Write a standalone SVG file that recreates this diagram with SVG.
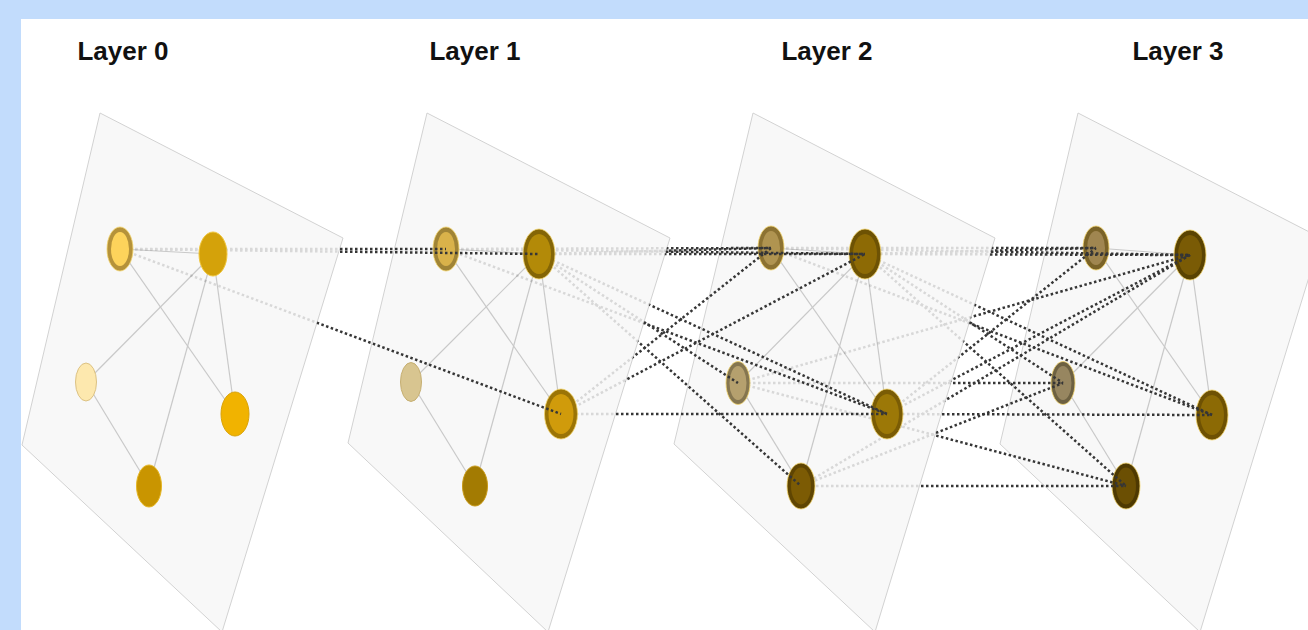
<svg xmlns="http://www.w3.org/2000/svg" xmlns:xlink="http://www.w3.org/1999/xlink" width="1308" height="630" viewBox="0 0 1308 630">
  <style>
    .label { font-family: "Liberation Sans", Arial, sans-serif; font-weight: bold; font-size: 26px; fill: #111; }
    .plane { fill: #f8f8f8; stroke: #d2d2d2; stroke-width: 1; }
    .edge { stroke: #c9c9c9; stroke-width: 1.2; fill: none; }
    .link { stroke: #363636; stroke-width: 2.5; stroke-dasharray: 2.5 2.5; fill: none; }
    .halo { stroke: #f3d46c; stroke-width: 0.8; }
  </style>
  <defs>
    <polygon id="p0" points="100,113 343,238 222,632 22,445"/>
    <polygon id="p1" points="427,113 670,238 548,632 348,443"/>
    <polygon id="p2" points="753,113 995,238 875,632 674,444"/>
    <!-- a link is faint where it crosses its source plane and hidden under the source nodes -->
    <mask id="m01" maskUnits="userSpaceOnUse" x="0" y="0" width="1308" height="630">
      <rect width="1308" height="630" fill="#fff"/>
      <use xlink:href="#p0" fill="#2a2a2a"/>
      <g fill="#000">
        <ellipse cx="120" cy="249" rx="13" ry="22"/>
        <ellipse cx="213" cy="254" rx="14" ry="22"/>
        <ellipse cx="86" cy="382" rx="10.5" ry="19"/>
        <ellipse cx="235" cy="414" rx="14" ry="22"/>
        <ellipse cx="149" cy="486" rx="12.5" ry="21"/>
      </g>
    </mask>
    <mask id="m12" maskUnits="userSpaceOnUse" x="0" y="0" width="1308" height="630">
      <rect width="1308" height="630" fill="#fff"/>
      <use xlink:href="#p1" fill="#2a2a2a"/>
      <g fill="#000">
        <ellipse cx="446" cy="249" rx="13" ry="22"/>
        <ellipse cx="539" cy="254" rx="16" ry="25"/>
        <ellipse cx="411" cy="382" rx="10.5" ry="19.5"/>
        <ellipse cx="561" cy="414" rx="16.5" ry="25"/>
        <ellipse cx="475" cy="486" rx="12.5" ry="20"/>
      </g>
    </mask>
    <mask id="m23" maskUnits="userSpaceOnUse" x="0" y="0" width="1308" height="630">
      <rect width="1308" height="630" fill="#fff"/>
      <use xlink:href="#p2" fill="#2a2a2a"/>
      <g fill="#000">
        <ellipse cx="771" cy="248" rx="13" ry="22"/>
        <ellipse cx="865" cy="254" rx="16" ry="25"/>
        <ellipse cx="738" cy="383" rx="12" ry="21.5"/>
        <ellipse cx="887" cy="414" rx="16" ry="25"/>
        <ellipse cx="801" cy="486" rx="14" ry="23"/>
      </g>
    </mask>
  </defs>

  <!-- page -->
  <rect width="1308" height="630" fill="#c2dcfc"/>
  <rect x="21" y="19" width="1287" height="611" fill="#fff"/>

  <!-- titles -->
  <text class="label" x="123" y="60" text-anchor="middle">Layer 0</text>
  <text class="label" x="475" y="60" text-anchor="middle">Layer 1</text>
  <text class="label" x="827" y="60" text-anchor="middle">Layer 2</text>
  <text class="label" x="1178" y="60" text-anchor="middle">Layer 3</text>

  <!-- planes -->
  <g id="planes">
    <use xlink:href="#p0" class="plane"/>
    <use xlink:href="#p1" class="plane"/>
    <use xlink:href="#p2" class="plane"/>
    <polygon class="plane" points="1078,113 1321,238 1200,632 1000,444"/>
  </g>

  <!-- graph edges inside each layer: A-B, A-D, B-C, B-D, B-E, C-E -->
  <g id="edges-0" class="edge">
    <line x1="120" y1="249" x2="213" y2="254"/>
    <line x1="120" y1="249" x2="235" y2="414"/>
    <line x1="213" y1="254" x2="86" y2="382"/>
    <line x1="213" y1="254" x2="235" y2="414"/>
    <line x1="213" y1="254" x2="149" y2="486"/>
    <line x1="86" y1="382" x2="149" y2="486"/>
  </g>
  <g id="edges-1" class="edge">
    <line x1="446" y1="249" x2="539" y2="254"/>
    <line x1="446" y1="249" x2="561" y2="414"/>
    <line x1="539" y1="254" x2="411" y2="382"/>
    <line x1="539" y1="254" x2="561" y2="414"/>
    <line x1="539" y1="254" x2="475" y2="486"/>
    <line x1="411" y1="382" x2="475" y2="486"/>
  </g>
  <g id="edges-2" class="edge">
    <line x1="771" y1="248" x2="865" y2="254"/>
    <line x1="771" y1="248" x2="887" y2="414"/>
    <line x1="865" y1="254" x2="738" y2="383"/>
    <line x1="865" y1="254" x2="887" y2="414"/>
    <line x1="865" y1="254" x2="801" y2="486"/>
    <line x1="738" y1="383" x2="801" y2="486"/>
  </g>
  <g id="edges-3" class="edge">
    <line x1="1096" y1="248" x2="1190" y2="255"/>
    <line x1="1096" y1="248" x2="1212" y2="415"/>
    <line x1="1190" y1="255" x2="1063" y2="383"/>
    <line x1="1190" y1="255" x2="1212" y2="415"/>
    <line x1="1190" y1="255" x2="1126" y2="486"/>
    <line x1="1063" y1="383" x2="1126" y2="486"/>
  </g>

  <!-- layer 0 nodes -->
  <g id="n0-a"><ellipse cx="120" cy="249" rx="13" ry="22" fill="#b5923a" class="halo"/><ellipse cx="120" cy="249" rx="9" ry="17" fill="#fdd35b"/></g>
  <g id="n0-b"><ellipse cx="213" cy="254" rx="14" ry="22" fill="#d4a20a" stroke="#f0c63c" stroke-width="1"/></g>
  <g id="n0-c"><ellipse cx="86" cy="382" rx="10.5" ry="19" fill="#fde8ae" stroke="#dcc284" stroke-width="1"/></g>
  <g id="n0-d"><ellipse cx="235" cy="414" rx="14" ry="22" fill="#f1b300" stroke="#d9a208" stroke-width="1"/></g>
  <g id="n0-e"><ellipse cx="149" cy="486" rx="12.5" ry="21" fill="#c99500" stroke="#e5b624" stroke-width="1"/></g>

  <!-- layer 1 nodes -->
  <g id="n1-a"><ellipse cx="446" cy="249" rx="13" ry="22" fill="#a08436" class="halo"/><ellipse cx="446" cy="249" rx="9" ry="17" fill="#d9b24a"/></g>
  <g id="n1-b"><ellipse cx="539" cy="254" rx="16" ry="25" fill="#846506" class="halo"/><ellipse cx="539" cy="254" rx="12" ry="20" fill="#b38a08"/></g>
  <g id="n1-c"><ellipse cx="411" cy="382" rx="10.5" ry="19.5" fill="#d8c590" stroke="#c6af72" stroke-width="1"/></g>
  <g id="n1-d"><ellipse cx="561" cy="414" rx="16.5" ry="25" fill="#9b7406" class="halo"/><ellipse cx="561" cy="414" rx="12.5" ry="20" fill="#d09b0b"/></g>
  <g id="n1-e"><ellipse cx="475" cy="486" rx="12.5" ry="20" fill="#a37b02" stroke="#c89a18" stroke-width="1"/></g>

  <!-- layer 2 nodes -->
  <g id="n2-a"><ellipse cx="771" cy="248" rx="13" ry="22" fill="#8c7232" class="halo"/><ellipse cx="771" cy="248" rx="9" ry="17" fill="#b09450"/></g>
  <g id="n2-b"><ellipse cx="865" cy="254" rx="16" ry="25" fill="#6d5204" class="halo"/><ellipse cx="865" cy="254" rx="12" ry="20" fill="#8d6a05"/></g>
  <g id="n2-c"><ellipse cx="738" cy="383" rx="12" ry="21.5" fill="#857650" class="halo"/><ellipse cx="738" cy="383" rx="8.5" ry="17" fill="#b5a06e"/></g>
  <g id="n2-d"><ellipse cx="887" cy="414" rx="16" ry="25" fill="#7a5c05" class="halo"/><ellipse cx="887" cy="414" rx="12" ry="20" fill="#9c7807"/></g>
  <g id="n2-e"><ellipse cx="801" cy="486" rx="14" ry="23" fill="#5f4502" class="halo"/><ellipse cx="801" cy="486" rx="10" ry="18.5" fill="#7c5b04"/></g>

  <!-- layer 3 nodes -->
  <g id="n3-a"><ellipse cx="1096" cy="248" rx="13" ry="22" fill="#7a6328" class="halo"/><ellipse cx="1096" cy="248" rx="9" ry="17" fill="#a08650"/></g>
  <g id="n3-b"><ellipse cx="1190" cy="255" rx="16" ry="25" fill="#5a4302" class="halo"/><ellipse cx="1190" cy="255" rx="12" ry="20" fill="#7a5b05"/></g>
  <g id="n3-c"><ellipse cx="1063" cy="383" rx="12" ry="21.5" fill="#6d6142" class="halo"/><ellipse cx="1063" cy="383" rx="8.5" ry="17" fill="#978660"/></g>
  <g id="n3-d"><ellipse cx="1212" cy="415" rx="16" ry="25" fill="#6e5103" class="halo"/><ellipse cx="1212" cy="415" rx="12" ry="20" fill="#8c6a05"/></g>
  <g id="n3-e"><ellipse cx="1126" cy="486" rx="14" ry="23" fill="#4e3901" class="halo"/><ellipse cx="1126" cy="486" rx="10" ry="18.5" fill="#6b4f03"/></g>

  <!-- message links between consecutive layers -->
  <g id="connectors" class="link">
    <g id="links-0-1" mask="url(#m01)">
      <line x1="120" y1="249" x2="446" y2="249"/>
      <line x1="120" y1="249" x2="539" y2="254"/>
      <line x1="120" y1="249" x2="561" y2="414"/>
    </g>
    <g id="links-1-2" mask="url(#m12)">
      <line x1="446" y1="249" x2="771" y2="248"/>
      <line x1="446" y1="249" x2="865" y2="254"/>
      <line x1="446" y1="249" x2="887" y2="414"/>
      <line x1="539" y1="254" x2="771" y2="248"/>
      <line x1="539" y1="254" x2="865" y2="254"/>
      <line x1="539" y1="254" x2="738" y2="383"/>
      <line x1="539" y1="254" x2="887" y2="414"/>
      <line x1="539" y1="254" x2="801" y2="486"/>
      <line x1="561" y1="414" x2="771" y2="248"/>
      <line x1="561" y1="414" x2="865" y2="254"/>
      <line x1="561" y1="414" x2="887" y2="414"/>
    </g>
    <g id="links-2-3" mask="url(#m23)">
      <line x1="771" y1="248" x2="1096" y2="248"/>
      <line x1="865" y1="254" x2="1096" y2="248"/>
      <line x1="887" y1="414" x2="1096" y2="248"/>
      <line x1="771" y1="248" x2="1190" y2="255"/>
      <line x1="865" y1="254" x2="1190" y2="255"/>
      <line x1="738" y1="383" x2="1190" y2="255"/>
      <line x1="887" y1="414" x2="1190" y2="255"/>
      <line x1="801" y1="486" x2="1190" y2="255"/>
      <line x1="865" y1="254" x2="1063" y2="383"/>
      <line x1="738" y1="383" x2="1063" y2="383"/>
      <line x1="801" y1="486" x2="1063" y2="383"/>
      <line x1="771" y1="248" x2="1212" y2="415"/>
      <line x1="865" y1="254" x2="1212" y2="415"/>
      <line x1="887" y1="414" x2="1212" y2="415"/>
      <line x1="865" y1="254" x2="1126" y2="486"/>
      <line x1="738" y1="383" x2="1126" y2="486"/>
      <line x1="801" y1="486" x2="1126" y2="486"/>
    </g>
  </g>
</svg>
